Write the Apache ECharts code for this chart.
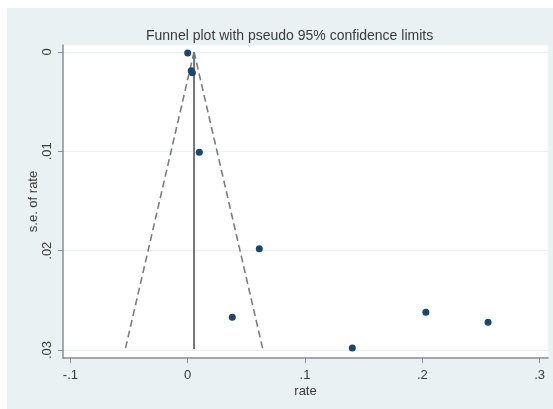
<!DOCTYPE html>
<html>
<head>
<meta charset="utf-8">
<script src="https://cdn.jsdelivr.net/npm/echarts@6/dist/echarts.min.js"></script>
<style>
html,body{margin:0;padding:0;background:#ffffff;}
#c{width:553px;height:409px;}
</style>
</head>
<body>
<div id="c"></div>
<script>
// Study estimates (rate) and their standard errors
var rates = [0.0000, 0.0030, 0.0040, 0.0099, 0.0610, 0.0380, 0.1403, 0.2030, 0.2560];
var ses   = [0.0001, 0.0019, 0.0021, 0.0101, 0.0198, 0.0267, 0.0298, 0.0262, 0.0272];

// Pseudo 95% confidence limits
var funnelSe    = [0.0000, 0.0299];
var funnelLeft  = [0.0054, -0.0532];
var funnelRight = [0.0054, 0.0640];
var pooledX     = [0.0054, 0.0054];

// Tick values and labels
var xTicks = [-0.1, 0, 0.1, 0.2, 0.3];
var xTickLabels = ['-.1', '0', '.1', '.2', '.3'];
var yTicks = [0, 0.01, 0.02, 0.03];
var yTickLabels = ['0', '.01', '.02', '.03'];

function pairs(xs, ys){ return xs.map(function(x,i){ return [x, ys[i]]; }); }
function lab(vals, labels){ return function(v){ for (var i=0;i<vals.length;i++){ if (Math.abs(vals[i]-v)<1e-9) return labels[i]; } return ''; }; }

var chart = echarts.init(document.getElementById('c'));
var axisCol = '#8a8f93';
var textCol = '#3a3a3a';
chart.setOption({
  animation: false,
  backgroundColor: 'transparent',
  graphic: [{
    type: 'rect', z: -10, silent: true,
    shape: {x: 7, y: 8, width: 546, height: 401},
    style: {fill: '#eaf1f3'}
  }],
  title: {
    text: 'Funnel plot with pseudo 95% confidence limits',
    left: 141, top: 24,
    textStyle: {fontFamily: 'Liberation Sans, Arial', fontSize: 14, fontWeight: 'normal', color: textCol}
  },
  grid: {
    left: 63, right: 5, top: 45, bottom: 51,
    show: true, backgroundColor: '#ffffff', borderColor: '#f2f5f6', borderWidth: 1
  },
  xAxis: {
    type: 'value', min: -0.1063, max: 0.3071,
    name: 'rate', nameLocation: 'middle', nameGap: 27, nameMoveOverlap: false,
    nameTextStyle: {fontFamily: 'Liberation Sans, Arial', fontSize: 13, color: textCol},
    axisLine: {show: true, onZero: false, lineStyle: {color: axisCol, width: 1.5}},
    axisTick: {show: true, inside: false, length: 5, customValues: xTicks, lineStyle: {color: axisCol}},
    axisLabel: {customValues: xTicks, formatter: lab(xTicks, xTickLabels), margin: 11,
      fontFamily: 'Liberation Sans, Arial', fontSize: 13, color: textCol},
    splitLine: {show: false}
  },
  yAxis: {
    type: 'value', inverse: true, min: -0.0007, max: 0.0308,
    name: 's.e. of rate', nameLocation: 'middle', nameRotate: 90, nameGap: 23, nameMoveOverlap: false,
    nameTextStyle: {fontFamily: 'Liberation Sans, Arial', fontSize: 13, color: textCol},
    axisLine: {show: true, onZero: false, lineStyle: {color: axisCol, width: 1.5}},
    axisTick: {show: true, inside: false, length: 5, customValues: yTicks, lineStyle: {color: axisCol}},
    axisLabel: {customValues: yTicks, formatter: lab(yTicks, yTickLabels), rotate: 90, margin: 9,
      fontFamily: 'Liberation Sans, Arial', fontSize: 13, color: textCol},
    splitLine: {show: true, lineStyle: {color: '#eaf1f3', width: 1}}
  },
  series: [
    {type: 'line', data: pairs(funnelLeft, funnelSe), symbol: 'none', silent: true,
      lineStyle: {color: '#7c7c7c', width: 1.6, type: [7, 4]}, z: 2},
    {type: 'line', data: pairs(funnelRight, funnelSe), symbol: 'none', silent: true,
      lineStyle: {color: '#7c7c7c', width: 1.6, type: [7, 4]}, z: 2},
    {type: 'line', data: pairs(pooledX, funnelSe), symbol: 'none', silent: true,
      lineStyle: {color: '#747474', width: 2}, z: 2},
    {type: 'scatter', data: pairs(rates, ses), symbol: 'circle', symbolSize: 7,
      itemStyle: {color: '#1a476f', opacity: 1}, z: 3}
  ]
});
</script>
</body>
</html>
